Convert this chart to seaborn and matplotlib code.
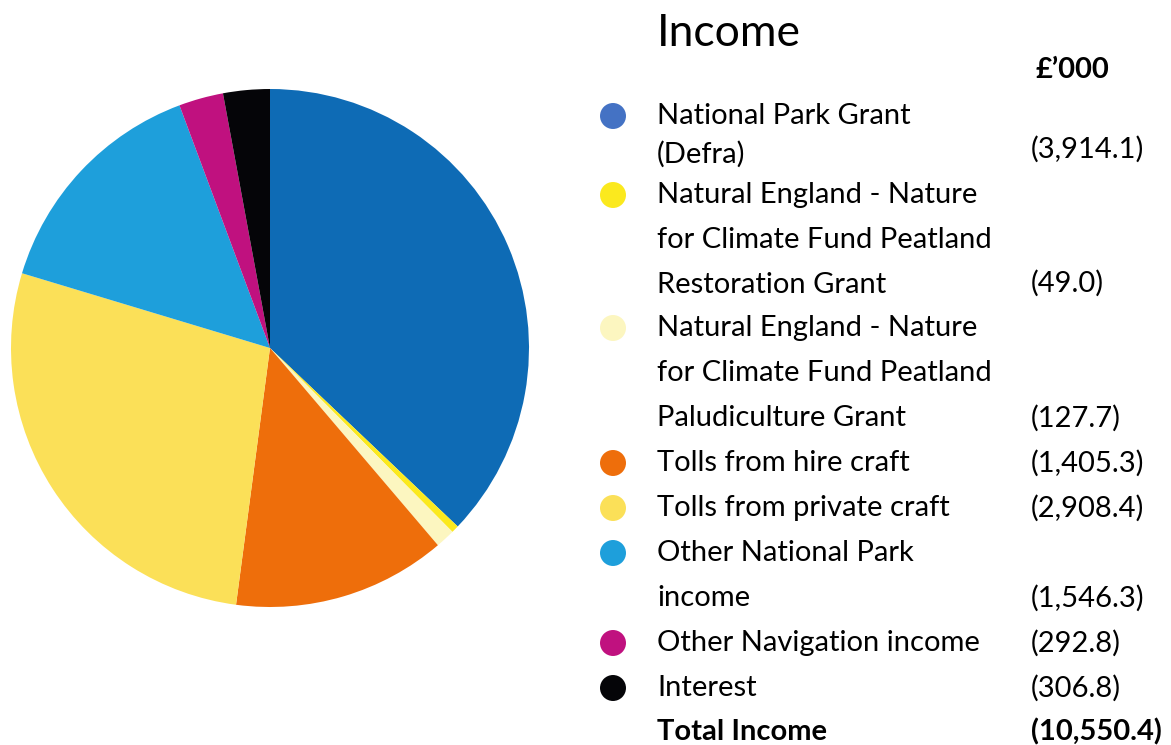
import matplotlib
matplotlib.use("Agg")
import matplotlib.pyplot as plt
import seaborn as sns

categories = [
    "National Park Grant\n(Defra)",
    "Natural England - Nature\nfor Climate Fund Peatland\nRestoration Grant",
    "Natural England - Nature\nfor Climate Fund Peatland\nPaludiculture Grant",
    "Tolls from hire craft",
    "Tolls from private craft",
    "Other National Park\nincome",
    "Other Navigation income",
    "Interest",
]
values = [3914.1, 49.0, 127.7, 1405.3, 2908.4, 1546.3, 292.8, 306.8]
value_labels = ["(3,914.1)", "(49.0)", "(127.7)", "(1,405.3)", "(2,908.4)",
                "(1,546.3)", "(292.8)", "(306.8)"]
total_label = "(10,550.4)"
pie_colors = ["#0E6BB5", "#FBE91E", "#FCF6C0", "#EE6E0B", "#FBE058",
              "#1E9FDB", "#C0117F", "#050508"]
marker_colors = ["#4472C4", "#FBE91E", "#FCF6C0", "#EE6E0B", "#FBE058",
                 "#1E9FDB", "#C0117F", "#050508"]

sns.set_theme(style="white")
plt.rcParams['font.family'] = ['Lato', 'DejaVu Sans']

W, H = 1171, 745
fig = plt.figure(figsize=(W / 100, H / 100), dpi=100)

# Pie axes
cx, cy, r = 270, 348, 259
ax = fig.add_axes([(cx - r) / W, (H - cy - r) / H, 2 * r / W, 2 * r / H])
ax.pie(values, colors=pie_colors, startangle=90, counterclock=False,
       radius=1, wedgeprops=dict(linewidth=0))
ax.set_xlim(-1, 1)
ax.set_ylim(-1, 1)
ax.set_aspect("equal")
ax.axis("off")

# Overlay axes in pixel coords for legend table
ov = fig.add_axes([0, 0, 1, 1])
ov.set_xlim(0, W)
ov.set_ylim(H, 0)
ov.axis("off")

fs = 21
ov.text(657, 33, "Income", fontsize=32, va="center", ha="left", color="black")
ov.text(1035, 70, "£’000", fontsize=fs, fontweight="bold", va="center", ha="left", color="black")

line_h = 45
row_start = [116, 195, 328, 463, 508, 553, 643, 688]
value_y = [149, 283, 418, 463, 508, 598, 643, 688]
for i, (lab, vl) in enumerate(zip(categories, value_labels)):
    y0 = row_start[i]
    ov.scatter([613], [y0], s=350, color=marker_colors[i], edgecolors="none", zorder=3)
    lines = lab.split("\n")
    if i == 0:
        ys = [116, 154]
    else:
        ys = [y0 + k * line_h for k in range(len(lines))]
    for ln, yy in zip(lines, ys):
        ov.text(657, yy, ln, fontsize=fs, va="center", ha="left", color="black")
    ov.text(1031, value_y[i], vl, fontsize=fs, va="center", ha="left", color="black")

ov.text(657, 732, "Total Income", fontsize=fs, fontweight="bold", va="center", ha="left", color="black")
ov.text(1031, 732, total_label, fontsize=fs, fontweight="bold", va="center", ha="left", color="black")

fig.savefig("out.png", dpi=100)
